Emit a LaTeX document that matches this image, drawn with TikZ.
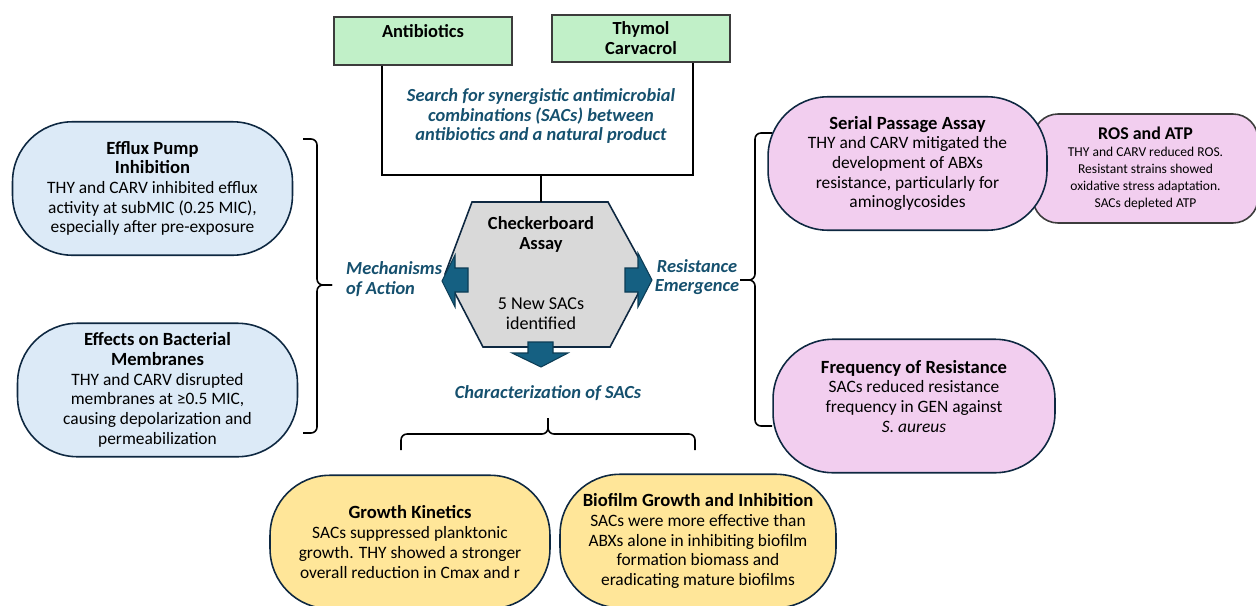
\documentclass[tikz,border=0pt]{standalone}
\usepackage{fontspec}
\setmainfont{Carlito}
\definecolor{capteal}{RGB}{21,80,110}
\definecolor{arrowteal}{RGB}{21,96,130}
\definecolor{arrowedge}{RGB}{12,60,85}
\definecolor{edgenavy}{RGB}{14,40,65}
\newcommand{\pillhead}[1]{{\fontsize{10.6}{11.2}\selectfont\bfseries #1}}

\begin{document}
\begin{tikzpicture}[x=0.02cm, y=-0.02cm,
    every node/.style={font=\fontsize{9.9}{11.2}\selectfont, align=center},
    greenbox/.style={draw=boxgray, fill=startgreen, line width=0.9pt, minimum width=3.56cm, minimum height=0.95cm, inner sep=0pt, font=\fontsize{10.5}{11.4}\selectfont\bfseries},
    pill/.style={draw=edgenavy, line width=0.9pt, rounded corners=1.2cm, minimum width=5.6cm, minimum height=2.67cm, inner sep=0pt},
    caption/.style={text=capteal, font=\fontsize{10.5}{11}\selectfont\bfseries\itshape},
    bracketline/.style={line width=0.9pt, rounded corners=0.12cm},
    blockarrow/.style={fill=arrowteal, draw=arrowedge, line width=0.6pt, line join=miter},
    frame/.style={black, line width=0.9pt}
  ]
  % Define colors for the groups
  \definecolor{startgreen}{RGB}{193,240,200}
  \definecolor{boxgray}{RGB}{60,60,60}
  \definecolor{mechblue}{RGB}{220,234,247}
  \definecolor{resistpink}{RGB}{242,206,239}
  \definecolor{charyellow}{RGB}{255,230,153}
  \definecolor{hexgray}{RGB}{217,217,217}

  \useasboundingbox (0,0) rectangle (1256,605);

  % Starting materials and the search frame
  \node[greenbox] (abx) at (423,41) {Antibiotics\\~};
  \node[greenbox] (thy) at (641,38.5) {Thymol\\Carvacrol};
  \node[caption] (srch) at (541,116) {Search for synergistic antimicrobial\\combinations (SACs) between\\antibiotics and a natural product};
  \coordinate (srchL) at (382,175);
  \coordinate (srchR) at (693,175);
  \draw[frame] (abx.south -| srchL) -- (srchL) -- (srchR) -- (thy.south -| srchR);

  % Checkerboard hexagon
  \coordinate (hexN) at (541,202);
  \filldraw[fill=hexgray, draw=edgenavy, line width=0.9pt] (472,202) -- (608,202) -- (648,275) -- (610,347) -- (483,347) -- (445,274) -- cycle;
  \draw[frame] (srchL -| hexN) -- (hexN);
  \node[font=\fontsize{10.5}{11.4}\selectfont\bfseries] (chk) at (541,234) {Checkerboard\\Assay};
  \node[font=\fontsize{10.3}{11.4}\selectfont] (newsac) at (541,314) {5 New SACs\\identified};

  % Block arrows out of the hexagon
  \filldraw[blockarrow] (442,281) -- (455,255) -- (455,268) -- (468,268) -- (468,292) -- (455,292) -- (455,307) -- cycle;
  \filldraw[blockarrow] (652,280) -- (638,253) -- (638,268) -- (625,268) -- (625,292) -- (638,292) -- (638,307) -- cycle;
  \filldraw[blockarrow] (541,367) -- (568,353) -- (553,353) -- (553,342) -- (528,342) -- (528,353) -- (512,353) -- cycle;

  % Captions of the three branches
  \node[caption, align=left, anchor=west] (moa) at (340,279) {Mechanisms\\of Action};
  \node[caption] (resem) at (697,277) {Resistance\\Emergence};
  \node[caption] (charsac) at (548,393) {Characterization of SACs};

  % Braces
  \coordinate (moaTop) at (303,139);
  \coordinate (moaBot) at (303,433);
  \coordinate (moaTip) at (332,285);
  \draw[bracketline] (moaTop) -- (317,139) -- (317,285) -- (moaTip);
  \draw[bracketline] (moaBot) -- (317,433) -- (317,285) -- (moaTip);
  \coordinate (resTop) at (772,133);
  \coordinate (resBot) at (772,426);
  \coordinate (resTip) at (740,280);
  \draw[bracketline] (resTop) -- (755,133) -- (755,280) -- (resTip);
  \draw[bracketline] (resBot) -- (755,426) -- (755,280) -- (resTip);
  \coordinate (charL) at (401,450);
  \coordinate (charR) at (695,450);
  \coordinate (charTip) at (548,418);
  \draw[bracketline] (charL) -- (401,434) -- (548,434) -- (charTip);
  \draw[bracketline] (charR) -- (695,434) -- (548,434) -- (charTip);

  % Mechanisms of action
  \node[pill, fill=mechblue] (efflux) at (152.5,188.5) {\pillhead{Efflux Pump}\\\pillhead{Inhibition}\\THY and CARV inhibited efflux\\activity at subMIC (0.25 MIC),\\especially after pre-exposure};
  \node[pill, fill=mechblue] (membr) at (157.5,390) {\pillhead{Effects on Bacterial}\\\pillhead{Membranes}\\THY and CARV disrupted\\membranes at ≥0.5 MIC,\\causing depolarization and\\permeabilization};

  % Resistance emergence
  \node[draw=boxgray, fill=resistpink, line width=0.9pt, rounded corners=0.5cm, minimum width=4.5cm, minimum height=2.18cm, inner sep=0pt, font=\fontsize{7.7}{9.6}\selectfont] (ros) at (1145.5,168.5) {{\fontsize{10.2}{12}\selectfont\bfseries ROS and ATP}\\THY and CARV reduced ROS.\\Resistant strains showed\\oxidative stress adaptation.\\SACs depleted ATP};
  \node[pill, fill=resistpink, minimum width=5.58cm] (serial) at (907.5,163.5) {\pillhead{Serial Passage Assay}\\THY and CARV mitigated the\\development of ABXs\\resistance, particularly for\\aminoglycosides};
  \node[pill, fill=resistpink, minimum width=5.64cm] (freq) at (914,406) {\pillhead{Frequency of Resistance}\\SACs reduced resistance\\frequency in GEN against\\\textit{S. aureus}\\~};

  % Characterization of SACs
  \node[pill, fill=charyellow] (growth) at (410,542) {\pillhead{Growth Kinetics}\\SACs suppressed planktonic\\growth. THY showed a stronger\\overall reduction in Cmax and r};
  \node[pill, fill=charyellow, minimum width=5.52cm] (biofilm) at (698,541) {\pillhead{Biofilm Growth and Inhibition}\\SACs were more effective than\\ABXs alone in inhibiting biofilm\\formation biomass and\\eradicating mature biofilms};

\end{tikzpicture}
\end{document}
